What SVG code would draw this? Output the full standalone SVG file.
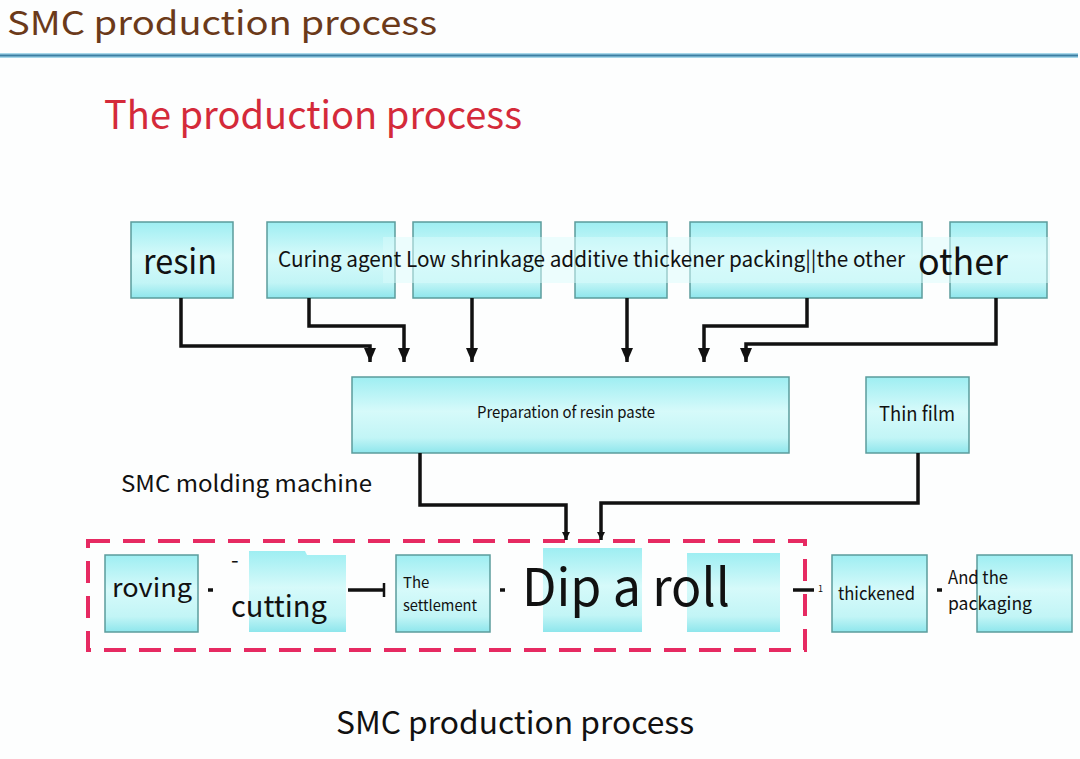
<svg xmlns="http://www.w3.org/2000/svg" width="1080" height="759" viewBox="0 0 1080 759">
<defs>
<linearGradient id="cy" x1="0" y1="0" x2="0" y2="1">
<stop offset="0" stop-color="#9eeef2"/>
<stop offset="0.45" stop-color="#d6fafa"/>
<stop offset="0.8" stop-color="#c2f5f6"/>
<stop offset="1" stop-color="#8ee6ec"/>
</linearGradient>
<marker id="ah" viewBox="0 0 12 14" refX="6" refY="14" markerWidth="12" markerHeight="14" markerUnits="userSpaceOnUse">
<path d="M0,0 L12,0 L6,14 Z" fill="#111"/>
</marker>
<marker id="ahs" viewBox="0 0 10 10" refX="5" refY="10" markerWidth="8" markerHeight="8" markerUnits="userSpaceOnUse">
<path d="M0,0 L10,0 L5,10 Z" fill="#111"/>
</marker>
</defs>
<style>
.box{fill:url(#cy);stroke:#5b9c9c;stroke-width:1.5}
.t{font-family:"Noto Sans CJK SC","Noto Sans",sans-serif;fill:#111}
.con{fill:none;stroke:#111;stroke-width:3.5;stroke-linejoin:miter}
</style>
<rect width="1080" height="759" fill="#fdfefe"/>
<text class="t" x="7" y="35" font-size="33" textLength="430" lengthAdjust="spacingAndGlyphs" style="fill:#6b3a1a">SMC production process</text>
<rect x="0" y="53" width="1078" height="5" fill="#a8d8ea"/>
<rect x="0" y="54.5" width="1078" height="2" fill="#3b7fa3"/>
<text class="t" x="104" y="129" font-size="39" textLength="418" lengthAdjust="spacingAndGlyphs" style="fill:#d42a3a">The production process</text>

<g id="n-resin"><rect class="box" x="131" y="222" width="102" height="76"/><text class="t" x="143" y="274" font-size="34" textLength="74" lengthAdjust="spacingAndGlyphs">resin</text></g>
<g id="n-curing"><rect class="box" x="267" y="222" width="128" height="76"/></g>
<g id="n-low"><rect class="box" x="413" y="222" width="128" height="76"/></g>
<g id="n-additive"><rect class="box" x="575" y="222" width="92" height="76"/></g>
<g id="n-thick"><rect class="box" x="690" y="222" width="232" height="76"/></g>
<g id="n-other"><rect class="box" x="950" y="222" width="97" height="76"/></g>
<rect x="383" y="237" width="667" height="46" fill="#dcfbfb" opacity="0.5"/>
<text class="t" x="278" y="267" font-size="21" textLength="627" lengthAdjust="spacingAndGlyphs">Curing agent Low shrinkage additive thickener packing||the other</text>
<text class="t" x="918" y="275" font-size="36" textLength="90" lengthAdjust="spacingAndGlyphs">other</text>

<g id="n-prep"><rect class="box" x="352" y="377" width="437" height="76"/><text class="t" x="477" y="418" font-size="16" textLength="178" lengthAdjust="spacingAndGlyphs">Preparation of resin paste</text></g>
<g id="n-film"><rect class="box" x="866" y="377" width="103" height="76"/><text class="t" x="879" y="421" font-size="20" textLength="76" lengthAdjust="spacingAndGlyphs">Thin film</text></g>

<text class="t" x="121" y="492" font-size="23" textLength="251" lengthAdjust="spacingAndGlyphs">SMC molding machine</text>

<rect x="88" y="541" width="717" height="109" fill="none" stroke="#e62a62" stroke-width="4" stroke-dasharray="22 13"/>

<g id="n-roving"><rect class="box" x="105" y="555" width="93" height="77"/><text class="t" x="112" y="597" font-size="26" textLength="80" lengthAdjust="spacingAndGlyphs">roving</text></g>
<g id="n-cutting"><path class="box" d="M249,551 H305 L307,555 H346 V632 H249 Z" style="stroke:none"/><text class="t" x="231" y="568" font-size="22">-</text><text class="t" x="231" y="617" font-size="30" textLength="96" lengthAdjust="spacingAndGlyphs">cutting</text></g>
<g id="n-settle"><rect class="box" x="396" y="555" width="94" height="77"/><text class="t" x="403" y="588" font-size="15">The</text><text class="t" x="403" y="611" font-size="15" textLength="74" lengthAdjust="spacingAndGlyphs">settlement</text></g>
<g id="n-dip"><rect class="box" x="543" y="548" width="99" height="84" style="stroke:none"/><rect class="box" x="687" y="553" width="93" height="79" style="stroke:none"/><text class="t" x="522" y="606" font-size="52" textLength="208" lengthAdjust="spacingAndGlyphs">Dip a roll</text></g>
<g id="n-thickened"><rect class="box" x="832" y="555" width="95" height="77"/><text class="t" x="838" y="600" font-size="18" textLength="77" lengthAdjust="spacingAndGlyphs">thickened</text></g>
<g id="n-pack"><rect class="box" x="977" y="555" width="95" height="77"/><text class="t" x="948" y="584" font-size="18" textLength="60" lengthAdjust="spacingAndGlyphs">And the</text><text class="t" x="948" y="610" font-size="18" textLength="84" lengthAdjust="spacingAndGlyphs">packaging</text></g>

<g id="connectors">
<path class="con" d="M181,298 V346 H370 V362" marker-end="url(#ah)"/>
<path class="con" d="M309,298 V326 H404 V362" marker-end="url(#ah)"/>
<path class="con" d="M472,298 V362" marker-end="url(#ah)"/>
<path class="con" d="M627,298 V362" marker-end="url(#ah)"/>
<path class="con" d="M807,298 V326 H704 V362" marker-end="url(#ah)"/>
<path class="con" d="M996,298 V344 H746 V362" marker-end="url(#ah)"/>
<path class="con" d="M420,453 V505 H566 V540" marker-end="url(#ahs)"/>
<path class="con" d="M918,453 V503 H601 V540" marker-end="url(#ahs)"/>
<path class="con" d="M208,590 H213"/>
<path class="con" d="M348,590 H384"/>
<path d="M384,583 V597" stroke="#111" stroke-width="2.5"/>
<path class="con" d="M500,590 H505"/>
<path class="con" d="M793,590 H814"/>
<text class="t" x="818" y="592" font-size="9">1</text>
<path class="con" d="M937,590 H942"/>
</g>

<text class="t" x="336" y="734" font-size="31" textLength="358" lengthAdjust="spacingAndGlyphs">SMC production process</text>
</svg>
